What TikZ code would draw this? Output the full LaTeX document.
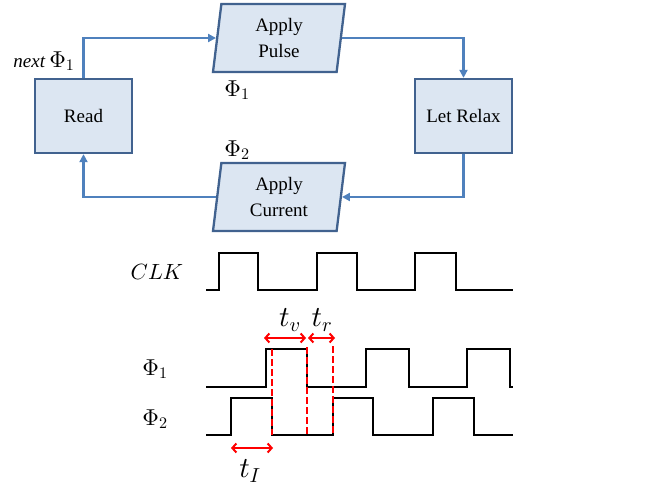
\documentclass[tikz,border=0pt]{standalone}
\usepackage{fontspec}
\setmainfont{Liberation Serif}
\DeclareFontShape{OML}{cmm}{m}{it}{<->cmmi10}{}
\DeclareFontShape{OT1}{cmr}{m}{n}{<->cmr10}{}
\DeclareFontShape{OMS}{cmsy}{m}{n}{<->cmsy10}{}
\usetikzlibrary{shapes.geometric,arrows.meta}
\definecolor{boxfill}{HTML}{DCE6F2}
\definecolor{boxline}{HTML}{41628F}
\definecolor{arrblue}{HTML}{4F81BD}
\definecolor{sigred}{HTML}{FF0000}
\tikzset{
  procbox/.style={draw=boxline, fill=boxfill, line width=2.3pt, minimum width=97pt, minimum height=74pt, inner sep=0pt, align=center, font=\fontsize{19}{21}\selectfont},
  parbox/.style={trapezium, trapezium left angle=78, trapezium right angle=102, trapezium stretches body, draw=boxline, fill=boxfill, line width=2.3pt, minimum width=132pt, minimum height=68pt, inner sep=0pt, align=center, font=\fontsize{19}{27}\selectfont},
  flow/.style={draw=arrblue, line width=2.4pt, -{Triangle[length=8pt,width=8pt]}},
  sig/.style={line width=2.8pt, line join=miter},
  redmark/.style={draw=sigred, line width=1.8pt, dash pattern=on 7pt off 3pt},
  redspan/.style={draw=sigred, line width=2pt, {Straight Barb[length=4pt,width=9pt]}-{Straight Barb[length=4pt,width=9pt]}},
  lbl/.style={inner sep=0pt, font=\fontsize{23}{25}\selectfont},
  tlbl/.style={inner sep=0pt, font=\fontsize{29}{31}\selectfont},
}
\begin{document}
\begin{tikzpicture}[x=1pt,y=-1pt]
\useasboundingbox (0,0) rectangle (651,489);
% flow chart
\node[procbox] (read) at (83.5,116) {Read};
\node[procbox] (relax) at (463.5,116) {Let Relax};
\node[parbox] (pulse) at (279,38) {\raisebox{-3pt}{Apply}\\\raisebox{-2pt}{Pulse}};
\node[parbox] (current) at (279,197) {\raisebox{-3pt}{Apply}\\\raisebox{-2pt}{Current}};
\draw[flow] (read.north) |- (pulse);
\draw[flow] (pulse) -| (relax.north);
\draw[flow] (relax.south) |- (current);
\draw[flow] (current) -| (read.south);
\node[lbl] (nextlbl) at (44,61) {{\fontsize{19}{21}\selectfont\textit{next}}\,$\Phi_1$};
\node[lbl] (phitop) at (237,90) {$\Phi_1$};
\node[lbl] (phibot) at (237,150) {$\Phi_2$};
% timing
\node[lbl, font=\fontsize{22}{24}\selectfont] (clklbl) at (157,272) {$CLK$};
\node[lbl] (p1lbl) at (155,369) {$\Phi_1$};
\node[lbl] (p2lbl) at (155,419) {$\Phi_2$};
\draw[sig] (206,290) -- (219,290) -- (219,253) -- (258,253) -- (258,290) -- (317,290) -- (317,253) -- (357,253) -- (357,290) -- (415,290) -- (415,253) -- (456,253) -- (456,290) -- (513,290);
\draw[sig] (206,387) -- (266,387) -- (266,349) -- (307,349) -- (307,387) -- (366,387) -- (366,349) -- (409,349) -- (409,387) -- (467,387) -- (467,349) -- (510,349) -- (510,387) -- (513,387);
\draw[sig] (206,435) -- (231,435) -- (231,398) -- (272,398) -- (272,435) -- (333,435) -- (333,398) -- (373,398) -- (373,435) -- (433,435) -- (433,398) -- (474,398) -- (474,435) -- (513,435);
\coordinate (m1a) at (272,349); \coordinate (m1b) at (272,435);
\coordinate (m2a) at (307,347); \coordinate (m2b) at (307,435);
\coordinate (m3a) at (333,346); \coordinate (m3b) at (333,435);
\draw[redmark] (m1a) -- (m1b);
\draw[redmark] (m2a) -- (m2b);
\draw[redmark] (m3a) -- (m3b);
\coordinate (tva) at (264,338); \coordinate (tvb) at (306,338);
\coordinate (tra) at (308,338); \coordinate (trb) at (335,338);
\coordinate (tia) at (231,448); \coordinate (tib) at (273,448);
\draw[redspan] (tva) -- (tvb);
\draw[redspan] (tra) -- (trb);
\draw[redspan] (tia) -- (tib);
\node[tlbl] (tvlbl) at (290,320) {$t_v$};
\node[tlbl] (trlbl) at (322,320) {$t_r$};
\node[tlbl] (tilbl) at (250,471) {$t_I$};
\end{tikzpicture}
\end{document}
